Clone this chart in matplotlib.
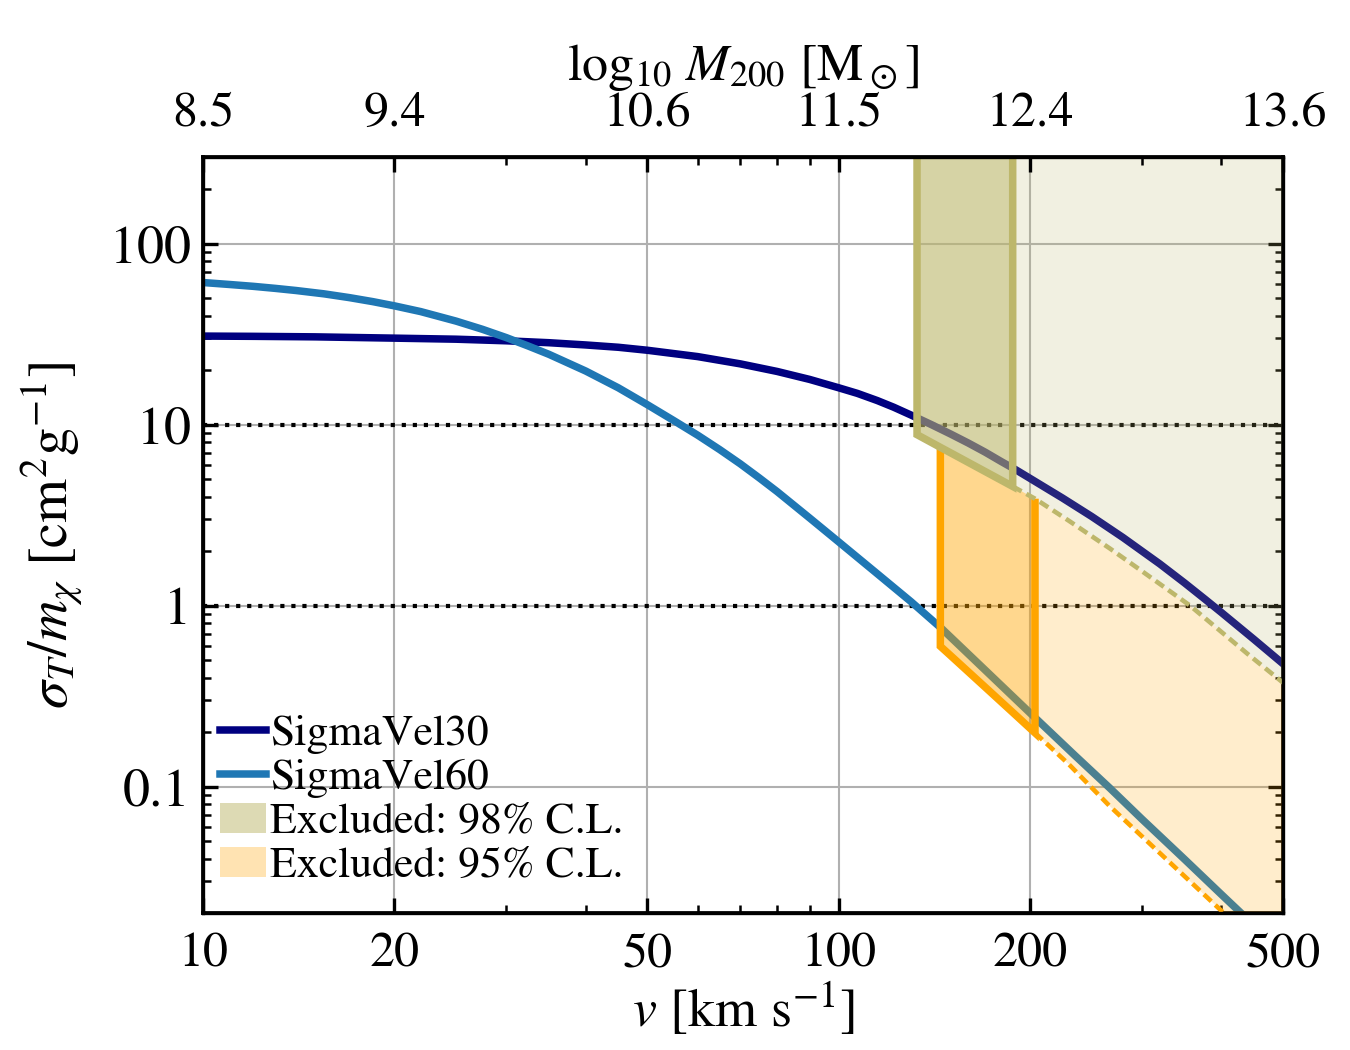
import numpy as np
import matplotlib
matplotlib.use('Agg')
import matplotlib.pyplot as plt
from matplotlib.patches import Patch
from matplotlib.lines import Line2D

# 字体与刻度样式
plt.rcParams['font.family'] = 'STIXGeneral'
plt.rcParams['mathtext.fontset'] = 'stix'
plt.rcParams['xtick.direction'] = 'in'
plt.rcParams['ytick.direction'] = 'in'
plt.rcParams['ytick.right'] = True
plt.rcParams['lines.solid_capstyle'] = 'projecting'

# 曲线数据
v30 = [10, 12, 15, 20, 25, 30, 35, 40, 45, 50, 60, 70, 80, 90, 100, 107, 115, 122, 130, 140,
       150, 160, 170, 180, 190, 200, 225, 250, 280, 320, 350, 377, 400, 450, 500]
sig30 = [30.9, 30.8, 30.6, 30.1, 29.7, 29.1, 28.4, 27.6, 26.8, 25.8, 23.8, 21.7, 19.7, 17.8,
         16.0, 14.9, 13.6, 12.5, 11.3, 10.0, 8.88, 7.91, 7.05, 6.27, 5.63, 5.05, 3.93, 3.11,
         2.38, 1.70, 1.335, 1.084, 0.916, 0.651, 0.477]

v60 = [10, 11, 12, 13, 14, 15.5, 17, 18.5, 20, 22, 25, 27.5, 30, 32.5, 35, 40, 45, 50, 55, 60,
       65, 70, 75, 80, 90, 100, 115, 130, 145, 170, 200, 235, 267, 300, 350, 400, 450, 500]
sig60 = [61.1, 59.6, 58.2, 56.7, 55.2, 52.9, 50.4, 47.9, 45.4, 42.2, 37.4, 33.7, 30.3, 27.2,
         24.5, 19.8, 16.0, 12.9, 10.55, 8.75, 7.28, 6.08, 5.08, 4.27, 3.05, 2.25, 1.5, 1.05,
         0.75, 0.44, 0.255, 0.149, 0.098, 0.066, 0.0396, 0.0253, 0.0171, 0.012]

# 排除区域的下边界
v_lim = [132.8, 144.5, 150, 170, 187.8, 203.6, 230, 267, 300, 357, 398, 440, 500]
lim98 = [8.81, 7.5, 6.99, 5.51, 4.56, 3.9, 2.95, 2.07, 1.55, 1.0, 0.726, 0.54, 0.375]
lim95 = [np.nan, 0.596, 0.529, 0.354, 0.257, 0.198, 0.133, 0.0778, 0.053, 0.0299, 0.0209, 0.015, 0.0098]
band98 = (132.8, 187.8)
band95 = (144.5, 203.6)

v_ticks = [10, 20, 50, 100, 200, 500]
m_labels = ['8.5', '9.4', '10.6', '11.5', '12.4', '13.6']
y_ticks = [0.1, 1, 10, 100]
y_labels = ['0.1', '1', '10', '100']
ymax = 300

v_lim = np.array(v_lim)
lim98 = np.array(lim98)
lim95 = np.array(lim95)

fig = plt.figure(figsize=(4.5, 3.5), dpi=300)
ax = fig.add_axes([0.1504, 0.1305, 0.8, 0.7195])

ax.plot(v30, sig30, color='navy', lw=1.8, zorder=2)
ax.plot(v60, sig60, color='tab:blue', lw=1.8, zorder=2)
for yy in [1, 10]:
    ax.axhline(yy, color='k', ls=':', lw=1.0, zorder=1.5)

khaki = matplotlib.colors.to_rgb('darkkhaki')
orange = matplotlib.colors.to_rgb('orange')

# 98% 区域
ax.fill_between(v_lim, lim98, ymax * 3, facecolor=khaki + (0.2,), edgecolor='none', zorder=3)
i98 = (v_lim >= band98[0]) & (v_lim <= band98[1])
ax.fill_between(v_lim[i98], lim98[i98], ymax * 3, facecolor=khaki + (0.5,), edgecolor='none', zorder=3.2)

# 95% 区域
i95 = v_lim >= band95[0]
ax.fill_between(v_lim[i95], lim95[i95], lim98[i95], facecolor=orange + (0.2,), edgecolor='none', zorder=3)
j95 = (v_lim >= band95[0]) & (v_lim <= band95[1])
ax.fill_between(v_lim[j95], lim95[j95], lim98[j95], facecolor=orange + (0.3,), edgecolor='none', zorder=3.1)

# 边界线
vb = v_lim[j95]
ax.plot(np.r_[vb[0], vb, vb[-1]], np.r_[lim98[j95][0], lim95[j95], lim98[j95][-1]],
        color='orange', lw=1.8, solid_joinstyle='miter', solid_capstyle='butt', zorder=3.15)
ax.plot(v_lim[v_lim >= band95[1]], lim95[v_lim >= band95[1]], color='orange', lw=1.1,
        dashes=(2.2, 1.2), zorder=3.4)
vk = v_lim[i98]
ax.plot(np.r_[vk[0], vk, vk[-1]], np.r_[ymax * 3, lim98[i98], ymax * 3],
        color='darkkhaki', lw=1.8, solid_joinstyle='miter', solid_capstyle='butt', zorder=3.5)
ax.plot(v_lim[v_lim >= band98[1]], lim98[v_lim >= band98[1]], color='darkkhaki', lw=1.1,
        dashes=(2.2, 1.2), zorder=3.4)

ax.set_xscale('log')
ax.set_yscale('log')
ax.set_xlim(10, 500)
ax.set_ylim(0.02, ymax)
ax.set_xticks(v_ticks)
ax.set_xticklabels([str(t) for t in v_ticks])
ax.set_yticks(y_ticks)
ax.set_yticklabels(y_labels)
ax.grid(True, which='major', color='#b0b0b0', lw=0.5, zorder=0)
ax.set_axisbelow(True)
ax.tick_params(which='major', length=3.6, width=0.8, labelsize=12)
ax.tick_params(which='minor', length=2.0, width=0.6)
ax.tick_params(axis='x', which='both', top=False, pad=4.5)
ax.tick_params(axis='y', pad=3, labelsize=13)
for s in ax.spines.values():
    s.set_linewidth(0.9)

ax.set_xlabel(r'$v$ [km s$^{-1}$]', fontsize=13, labelpad=1)
ax.set_ylabel(r'$\sigma_T/m_\chi$ [cm$^2$g$^{-1}$]', fontsize=13.5, labelpad=6)

axt = ax.twiny()
axt.set_xscale('log')
axt.set_xlim(ax.get_xlim())
axt.set_xticks(v_ticks)
axt.set_xticklabels(m_labels)
axt.tick_params(which='major', length=3.6, width=0.8, labelsize=12, pad=5)
axt.tick_params(which='minor', length=2.0, width=0.6)
axt.set_xlabel(r'$\log_{10}\,M_{200}$ [M$_\odot$]', fontsize=12.5, labelpad=2.8)

handles = [Line2D([], [], color='navy', lw=1.8),
           Line2D([], [], color='tab:blue', lw=1.8),
           Patch(facecolor=khaki + (0.5,), edgecolor='none'),
           Patch(facecolor=orange + (0.3,), edgecolor='none')]
labels = ['SigmaVel30', 'SigmaVel60', 'Excluded: 98% C.L.', 'Excluded: 95% C.L.']
ax.legend(handles, labels, loc='lower left', bbox_to_anchor=(0.004, 0.019), frameon=False,
          fontsize=10.5, handlelength=1.05, handletextpad=0.1, labelspacing=0.1,
          borderaxespad=0, borderpad=0.28)

fig.savefig('out.png', dpi=300)
